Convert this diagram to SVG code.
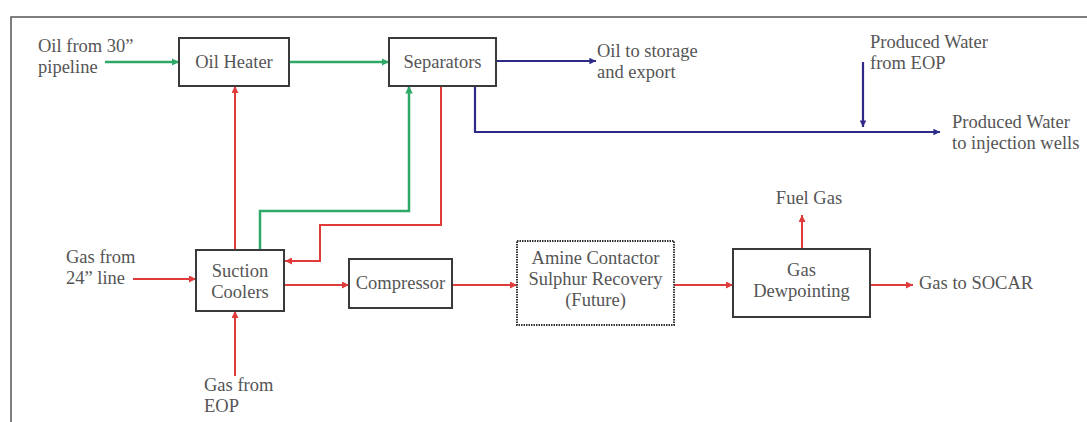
<svg xmlns="http://www.w3.org/2000/svg" width="1087" height="422" viewBox="0 0 1087 422">
<style>
text{font-family:'Liberation Serif','DejaVu Serif',serif;font-size:18.5px;fill:#555}
.c{text-anchor:middle}
.box{fill:#fff;stroke:#3a3a3a;stroke-width:2}
.dash{fill:#fff;stroke:#333;stroke-width:2;stroke-dasharray:1.5 1}
.g{fill:none;stroke:#2ea866;stroke-width:2.5}
.r{fill:none;stroke:#e03a3a;stroke-width:2}
.b{fill:none;stroke:#2e2a88;stroke-width:2.2}
</style>
<defs>
<marker id="ag" viewBox="0 0 10 10" refX="10" refY="5" markerWidth="3" markerHeight="3" orient="auto"><path d="M0,0L10,5L0,10z" fill="#2ea866"/></marker>
<marker id="ar" viewBox="0 0 10 10" refX="10" refY="5" markerWidth="3.5" markerHeight="3.5" orient="auto"><path d="M0,0L10,5L0,10z" fill="#e03a3a"/></marker>
<marker id="ab" viewBox="0 0 10 10" refX="10" refY="5" markerWidth="3" markerHeight="3" orient="auto"><path d="M0,0L10,5L0,10z" fill="#2e2a88"/></marker>
</defs>
<rect width="1087" height="422" fill="#fff"/>
<path d="M11,422V17H1087" fill="none" stroke="#555" stroke-width="1.5"/>
<g id="connectors">
<path class="g" d="M105,62H179" marker-end="url(#ag)"/>
<path class="g" d="M289,62H389" marker-end="url(#ag)"/>
<path class="b" d="M496,61H596" marker-end="url(#ab)"/>
<path class="b" d="M475,86V132H940" marker-end="url(#ab)"/>
<path class="b" d="M863,62V127" marker-end="url(#ab)"/>
<path class="r" d="M235,250V86" marker-end="url(#ar)"/>
<path class="g" d="M260,250V211H409V86" marker-end="url(#ag)"/>
<path class="r" d="M441,86V225H320V261H285" marker-end="url(#ar)"/>
<path class="r" d="M133,279H196" marker-end="url(#ar)"/>
<path class="r" d="M235,376V311" marker-end="url(#ar)"/>
<path class="r" d="M284,285H349" marker-end="url(#ar)"/>
<path class="r" d="M452,285H517" marker-end="url(#ar)"/>
<path class="r" d="M674,285H733" marker-end="url(#ar)"/>
<path class="r" d="M802,249V215" marker-end="url(#ar)"/>
<path class="r" d="M870,285H913" marker-end="url(#ar)"/>
</g>
<g id="oil-heater"><rect class="box" x="179" y="38" width="110" height="48"/><text class="c" x="234" y="68">Oil Heater</text></g>
<g id="separators"><rect class="box" x="389" y="38" width="107" height="48"/><text class="c" x="442.5" y="68">Separators</text></g>
<g id="suction-coolers"><rect class="box" x="196" y="250" width="88" height="61"/><text class="c" x="240" y="277">Suction</text><text class="c" x="240" y="298">Coolers</text></g>
<g id="compressor"><rect class="box" x="349" y="259" width="103" height="49"/><text class="c" x="400.5" y="289">Compressor</text></g>
<g id="amine"><rect class="dash" x="517" y="241" width="157" height="84"/><text class="c" x="595.5" y="264">Amine Contactor</text><text class="c" x="595.5" y="285">Sulphur Recovery</text><text class="c" x="595.5" y="306">(Future)</text></g>
<g id="gas-dewpointing"><rect class="box" x="733" y="249" width="137" height="68"/><text class="c" x="801.5" y="276">Gas</text><text class="c" x="801.5" y="297">Dewpointing</text></g>
<g id="labels">
<text x="38" y="52">Oil from 30”</text><text x="38" y="73">pipeline</text>
<text x="597" y="57">Oil to storage</text><text x="597" y="78">and export</text>
<text x="870" y="48">Produced Water</text><text x="870" y="69">from EOP</text>
<text x="952" y="128">Produced Water</text><text x="952" y="149">to injection wells</text>
<text x="66" y="263">Gas from</text><text x="66" y="284">24” line</text>
<text x="204" y="391">Gas from</text><text x="204" y="412">EOP</text>
<text class="c" x="809" y="204">Fuel Gas</text>
<text x="919" y="289">Gas to SOCAR</text>
</g>
</svg>
